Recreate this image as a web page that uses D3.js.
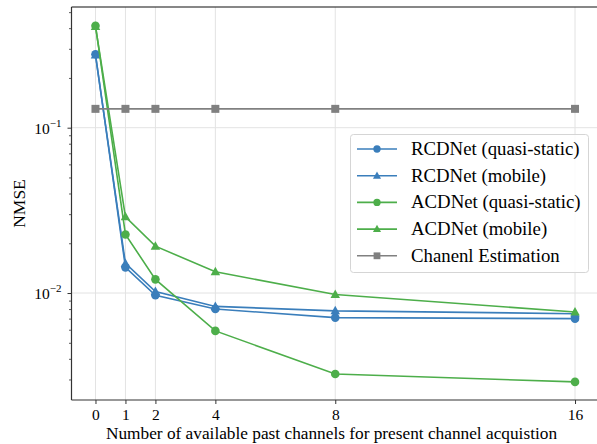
<!DOCTYPE html>
<html><head><meta charset="utf-8">
<script src="https://cdn.jsdelivr.net/npm/d3@7"></script>
<style>body{margin:0;background:#fff}svg{display:block}text{font-family:"Liberation Serif","Times New Roman",serif}</style>
</head><body><svg id="c" width="597" height="444"></svg>
<script>
const xValues = [0, 1, 2, 4, 8, 16];
const xTickLabels = ["0", "1", "2", "4", "8", "16"];
const rcdStatic = [0.278, 0.0143, 0.0097, 0.0080, 0.0071, 0.0070];
const rcdMobile = [0.275, 0.0151, 0.0102, 0.0083, 0.0078, 0.0075];
const acdStatic = [0.414, 0.0226, 0.0121, 0.0059, 0.00324, 0.0029];
const acdMobile = [0.41, 0.0289, 0.0192, 0.01345, 0.0098, 0.00767];
const chEst = [0.130, 0.130, 0.130, 0.130, 0.130, 0.130];
const seriesNames = ["RCDNet (quasi-static)", "RCDNet (mobile)", "ACDNet (quasi-static)", "ACDNet (mobile)", "Chanenl Estimation"];
const yMajorTicks = [0.01, 0.1];
const yTickExp = ["\u22122", "\u22121"];

const blue = "#3a7ebb", green = "#4dae4a", gray = "#808080";
const series = [
  {name: seriesNames[0], vals: rcdStatic, color: blue, marker: "circle"},
  {name: seriesNames[1], vals: rcdMobile, color: blue, marker: "triangle"},
  {name: seriesNames[2], vals: acdStatic, color: green, marker: "circle"},
  {name: seriesNames[3], vals: acdMobile, color: green, marker: "triangle"},
  {name: seriesNames[4], vals: chEst, color: gray, marker: "square"}
];

const svg = d3.select("#c");
const L = 71.5, R = 599, T = 7, B = 400;
const x = d3.scaleLinear().domain([-0.8, 16.8]).range([L, R]);
const y = d3.scaleLog().domain([Math.pow(10, -2.647), Math.pow(10, -0.270)]).range([B, T]);

const clip = svg.append("defs").append("clipPath").attr("id", "pc");
clip.append("rect").attr("x", L).attr("y", T).attr("width", R - L).attr("height", B - T);

// grid
const g = svg.append("g");
g.selectAll(".gx").data(xValues).join("line")
  .attr("x1", d => x(d)).attr("x2", d => x(d)).attr("y1", T).attr("y2", B)
  .attr("stroke", "#e3e3e3").attr("stroke-width", 1);
g.selectAll(".gy").data(yMajorTicks).join("line")
  .attr("x1", L).attr("x2", R).attr("y1", d => y(d)).attr("y2", d => y(d))
  .attr("stroke", "#e3e3e3").attr("stroke-width", 1);

// axes
const xAxis = d3.axisBottom(x).tickValues(xValues).tickFormat((d, i) => xTickLabels[i]).tickSize(4).tickPadding(5);
const gx = svg.append("g").attr("transform", `translate(0,${B})`).call(xAxis);
gx.select(".domain").remove();
gx.selectAll(".tick line").attr("stroke", "#333").attr("stroke-width", 1);
gx.selectAll(".tick text").attr("font-size", 15.5).attr("fill", "#000").attr("font-family", "Liberation Serif");

const minor = [];
for (let e = -3; e <= -1; e++) for (let m = 2; m <= 9; m++) {
  const v = m * Math.pow(10, e);
  if (v >= y.domain()[0] && v <= y.domain()[1]) minor.push(v);
}
const yMinor = d3.axisLeft(y).tickValues(minor).tickFormat("").tickSize(2.5);
const gym = svg.append("g").attr("transform", `translate(${L},0)`).call(yMinor);
gym.select(".domain").remove();
gym.selectAll(".tick line").attr("stroke", "#333").attr("stroke-width", 0.8);

const yMajor = d3.axisLeft(y).tickValues(yMajorTicks).tickFormat("").tickSize(4);
const gy = svg.append("g").attr("transform", `translate(${L},0)`).call(yMajor);
gy.select(".domain").remove();
gy.selectAll(".tick line").attr("stroke", "#333").attr("stroke-width", 1);
gy.selectAll(".tick").each(function(d, i) {
  const t = d3.select(this).append("text").attr("x", -10).attr("y", 5.5)
    .attr("text-anchor", "end").attr("fill", "#000").attr("font-size", 15.5);
  t.append("tspan").text("10");
  t.append("tspan").attr("dy", -7).attr("font-size", 11).text(yTickExp[i]);
});

// spines
svg.append("line").attr("x1", L).attr("x2", L).attr("y1", T).attr("y2", B).attr("stroke", "#333").attr("stroke-width", 1.2);
svg.append("line").attr("x1", L).attr("x2", R).attr("y1", B).attr("y2", B).attr("stroke", "#333").attr("stroke-width", 1.2);
svg.append("line").attr("x1", L).attr("x2", R).attr("y1", T).attr("y2", T).attr("stroke", "#111").attr("stroke-width", 1.2);

// markers
function drawMarker(sel, type, cx, cy, color, s) {
  if (type === "circle") sel.append("circle").attr("cx", cx).attr("cy", cy).attr("r", 4.3 * s).attr("fill", color);
  else if (type === "triangle") {
    const r = 5 * s;
    sel.append("path").attr("d", `M${cx},${cy - r}L${cx + r * 0.95},${cy + r * 0.7}L${cx - r * 0.95},${cy + r * 0.7}Z`).attr("fill", color);
  } else {
    const h = 4 * s;
    sel.append("rect").attr("x", cx - h).attr("y", cy - h).attr("width", 2 * h).attr("height", 2 * h).attr("fill", color);
  }
}

const plot = svg.append("g").attr("clip-path", "url(#pc)");
const line = d3.line().x((d, i) => x(xValues[i])).y(d => y(d));
series.forEach(s => {
  const gg = plot.append("g");
  gg.append("path").attr("d", line(s.vals)).attr("fill", "none").attr("stroke", s.color).attr("stroke-width", 1.6);
  s.vals.forEach((v, i) => drawMarker(gg, s.marker, x(xValues[i]), y(v), s.color, 1));
});

// legend
const lg = svg.append("g");
lg.append("rect").attr("x", 350.5).attr("y", 134.5).attr("width", 238).attr("height", 138).attr("rx", 3)
  .attr("fill", "rgba(255,255,255,0.85)").attr("stroke", "#d5d5d5").attr("stroke-width", 1);
series.forEach((s, i) => {
  const cy = 149 + i * 26.7;
  lg.append("line").attr("x1", 357).attr("x2", 397).attr("y1", cy).attr("y2", cy).attr("stroke", s.color).attr("stroke-width", 1.6);
  drawMarker(lg, s.marker, 377, cy, s.color, 0.85);
  lg.append("text").attr("x", 411).attr("y", cy + 6).attr("font-size", 18.8).attr("fill", "#000").text(s.name);
});

// labels
svg.append("text").attr("x", 331.5).attr("y", 438.5).attr("text-anchor", "middle").attr("font-size", 17.3).attr("fill", "#000")
  .text("Number of available past channels for present channel acquistion");
svg.append("text").attr("transform", `translate(25,${(T + B) / 2}) rotate(-90)`).attr("text-anchor", "middle").attr("font-size", 17.5).attr("fill", "#000").text("NMSE");
</script></body></html>
